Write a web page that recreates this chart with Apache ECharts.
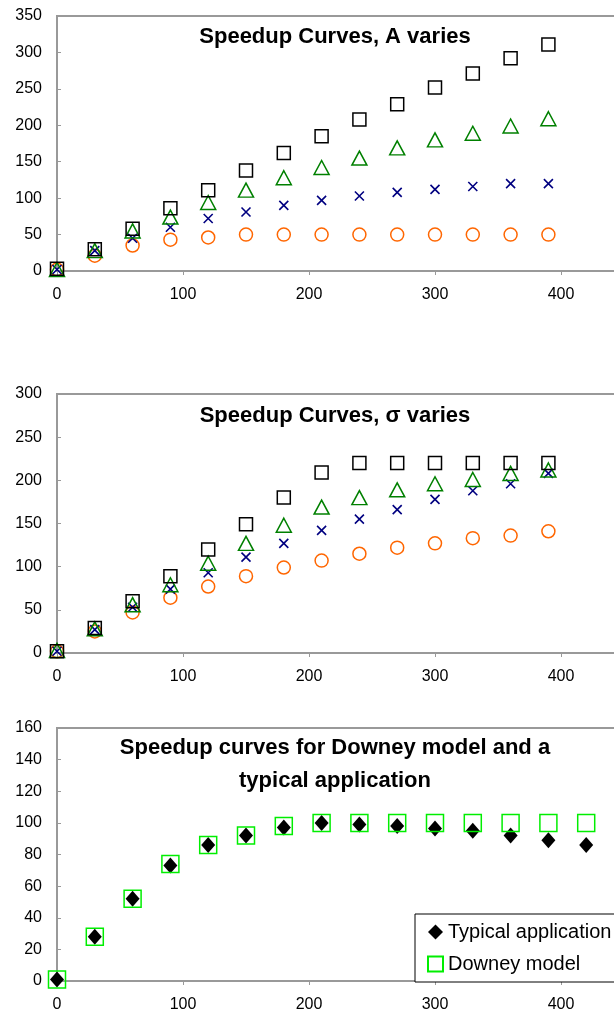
<!DOCTYPE html>
<html>
<head>
<meta charset="utf-8">
<script src="https://cdn.jsdelivr.net/npm/echarts@6/dist/echarts.min.js"></script>
<style>
html,body{margin:0;padding:0;background:#fff;}
#c{width:614px;height:1019px;}
</style>
</head>
<body>
<div id="c"></div>
<script>
// ---- data ----
const xA = [0,30,60,90,120,150,180,210,240,270,300,330,360,390];
const aSquare = [3,30,58,86,111,138,162,185,208,229,252,271,292,311];
const aTriangle = [2,28,55,74,94,111,128,142,155,169,180,189,199,209];
const aCross = [2,28,45,60,72,81,90,97,103,108,112,116,120,120];
const aCircle = [2,21,35,43,46,50,50,50,50,50,50,50,50,50];

const sSquare = [2,29,60,89,120,149,180,209,220,220,220,220,220,220];
const sTriangle = [3,28,56,79,104,127,148,169,180,189,196,201,208,212];
const sCross = [2,27,53,74,93,111,127,142,155,166,178,188,196,208];
const sCircle = [2,25,47,64,77,89,99,107,115,122,127,133,136,141];

const xD = [0,30,60,90,120,150,180,210,240,270,300,330,360,390,420];
const typical = [1,28,52,73,86,92,97,100,99,98,96.5,95,92,89,86];
const downey = [1,28,52,74,86,92,98,100,100,100,100,100,100,100,100];

const titles = ['Speedup Curves, A varies', 'Speedup Curves, \u03c3 varies', 'Speedup curves for Downey model and a\ntypical application'];
const legendNames = ['Typical application', 'Downey model'];

// ---- chart ----
const FONT = '"Liberation Sans", Arial, sans-serif';
const pair = (xs, ys) => xs.map((x, i) => [x, ys[i]]);
const CROSS = 'path://M0,0L10,10M10,0L0,10';

const gridDefs = [
  {left: 57, top: 16, width: 630, height: 255},
  {left: 57, top: 394, width: 630, height: 259},
  {left: 57, top: 728, width: 630, height: 253}
];
const yDefs = [
  {max: 350, interval: 50},
  {max: 300, interval: 50},
  {max: 160, interval: 20}
];

const axisLineStyle = {color: '#999', width: 2};
const xAxes = gridDefs.map((g, i) => ({
  type: 'value', gridIndex: i, min: 0, max: 500, interval: 100,
  axisLine: {show: true, lineStyle: axisLineStyle},
  axisTick: {show: true, inside: false, length: 4, lineStyle: {color: '#999'}},
  splitLine: {show: false},
  axisLabel: {fontFamily: FONT, fontSize: 16, color: '#000', margin: 16}
}));
const yAxes = yDefs.map((d, i) => ({
  type: 'value', gridIndex: i, min: 0, max: d.max, interval: d.interval,
  axisLine: {show: true, lineStyle: axisLineStyle},
  axisTick: {show: true, inside: true, length: 4, lineStyle: {color: '#999'}},
  splitLine: {show: false},
  axisLabel: {fontFamily: FONT, fontSize: 16, color: '#000', margin: 15}
}));

function sc(name, idx, data, symbol, size, color, fill, bw) {
  return {
    type: 'scatter', name: name, xAxisIndex: idx, yAxisIndex: idx,
    data: data, symbol: symbol, symbolSize: size,
    itemStyle: {color: fill, borderColor: color, borderWidth: bw, opacity: 1},
    emphasis: {disabled: true}, silent: true
  };
}

const series = [
  sc('c1', 0, pair(xA, aCircle), 'circle', 13, '#ff6600', 'rgba(0,0,0,0)', 1.5),
  sc('x1', 0, pair(xA, aCross), CROSS, 9, '#000080', 'rgba(0,0,0,0)', 1.6),
  sc('t1', 0, pair(xA, aTriangle), 'triangle', [15, 14], '#008000', 'rgba(0,0,0,0)', 1.5),
  sc('s1', 0, pair(xA, aSquare), 'rect', 13, '#000', 'rgba(0,0,0,0)', 1.5),

  sc('c2', 1, pair(xA, sCircle), 'circle', 13, '#ff6600', 'rgba(0,0,0,0)', 1.5),
  sc('x2', 1, pair(xA, sCross), CROSS, 9, '#000080', 'rgba(0,0,0,0)', 1.6),
  sc('t2', 1, pair(xA, sTriangle), 'triangle', [15, 14], '#008000', 'rgba(0,0,0,0)', 1.5),
  sc('s2', 1, pair(xA, sSquare), 'rect', 13, '#000', 'rgba(0,0,0,0)', 1.5),

  sc(legendNames[0], 2, pair(xD, typical), 'diamond', [14, 16], '#000', '#000', 0),
  sc(legendNames[1], 2, pair(xD, downey), 'rect', 17, '#00ee00', 'rgba(0,0,0,0)', 1.5)
];

const graphic = [
  {type: 'text', x: 335, y: 37, z: 100,
   style: {text: titles[0], font: 'bold 22px ' + FONT, fill: '#000', textAlign: 'center', textVerticalAlign: 'middle'}},
  {type: 'text', x: 335, y: 416, z: 100,
   style: {text: titles[1], font: 'bold 22px ' + FONT, fill: '#000', textAlign: 'center', textVerticalAlign: 'middle'}},
  {type: 'text', x: 335, y: 764, z: 100,
   style: {text: titles[2], font: 'bold 22px ' + FONT, fill: '#000', textAlign: 'center', textVerticalAlign: 'middle', lineHeight: 33}}
];

const chart = echarts.init(document.getElementById('c'), null, {renderer: 'canvas'});
chart.setOption({
  animation: false,
  backgroundColor: '#fff',
  grid: gridDefs.map(g => Object.assign({show: true, borderColor: '#999', borderWidth: 2, backgroundColor: 'transparent', outerBoundsMode: 'none', containLabel: false}, g)),
  xAxis: xAxes,
  yAxis: yAxes,
  legend: {
    data: legendNames, left: 415, top: 914, orient: 'vertical',
    padding: [8, 40, 8, 12], itemGap: 12, itemWidth: 15, itemHeight: 15,
    borderColor: '#000', borderWidth: 1, backgroundColor: '#fff',
    textStyle: {fontFamily: FONT, fontSize: 20, color: '#000'},
    selectedMode: false
  },
  graphic: graphic,
  series: series
});
</script>
</body>
</html>
